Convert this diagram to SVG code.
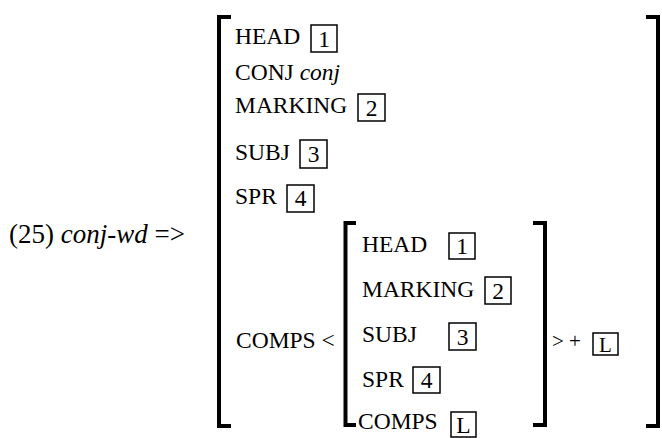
<svg xmlns="http://www.w3.org/2000/svg" width="662" height="438" viewBox="0 0 662 438">
<style>
text{font-family:"Liberation Serif","Times New Roman",serif;font-size:23.5px;fill:#000}
.it{font-style:italic}
.box{fill:none;stroke:#000;stroke-width:1.5}
.br{fill:none;stroke:#000;stroke-width:4}
.num{text-anchor:middle}
</style>
<rect width="662" height="438" fill="#fff"/>
<g id="label"><text x="9" y="243" style="font-size:27px">(25) <tspan class="it">conj-wd</tspan> =&gt;</text></g>
<g id="connectors">
<path class="br" d="M231,17H219V426H231"/>
<path class="br" d="M646,17H658V426H646"/>
<path class="br" d="M356,223H345.5V425H356"/>
<path class="br" d="M533,223H545V425H533"/>
</g>
<g id="outer">
<text x="235" y="44">HEAD</text><rect class="box" x="311" y="25" width="26" height="27"/><text class="num" x="324" y="47">1</text>
<text x="235" y="80">CONJ <tspan class="it">conj</tspan></text>
<text x="235" y="113">MARKING</text><rect class="box" x="358" y="94" width="27" height="27"/><text class="num" x="371.5" y="116">2</text>
<text x="235" y="160">SUBJ</text><rect class="box" x="300" y="140" width="27" height="28"/><text class="num" x="313.5" y="162">3</text>
<text x="235" y="204">SPR</text><rect class="box" x="287" y="185" width="27" height="27"/><text class="num" x="300.5" y="206">4</text>
<text x="236" y="348">COMPS &lt;</text>
</g>
<g id="inner">
<text x="362" y="252">HEAD</text><rect class="box" x="449" y="233" width="26" height="26"/><text class="num" x="462" y="254">1</text>
<text x="362" y="297">MARKING</text><rect class="box" x="485" y="277" width="26" height="27"/><text class="num" x="498" y="299">2</text>
<text x="362" y="342">SUBJ</text><rect class="box" x="449" y="323" width="27" height="27"/><text class="num" x="462.5" y="345">3</text>
<text x="362" y="387">SPR</text><rect class="box" x="413" y="367" width="27" height="26"/><text class="num" x="426.5" y="388">4</text>
<text x="358" y="429">COMPS</text><rect class="box" x="451" y="412" width="25" height="25"/><text class="num" x="463.5" y="433">L</text>
</g>
<g id="tail">
<text x="552" y="348" style="font-size:21px">&gt; +</text><rect class="box" x="593" y="333" width="25" height="22"/><text class="num" x="605.5" y="352" style="font-size:21px">L</text>
</g>
</svg>
